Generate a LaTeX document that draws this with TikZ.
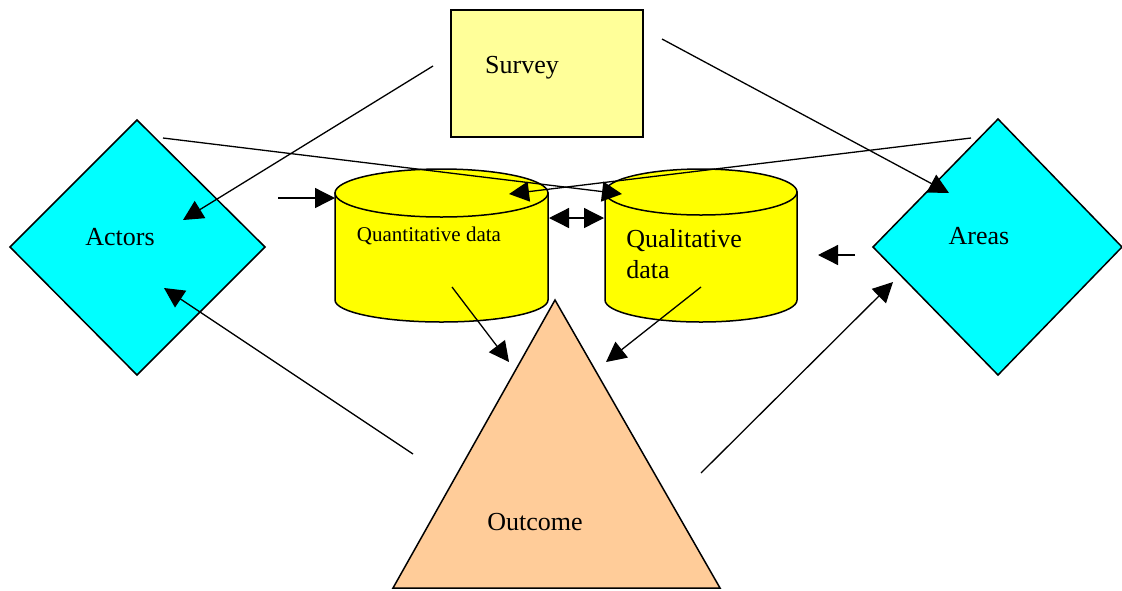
\documentclass[tikz,border=0pt]{standalone}
\usepackage{fontspec}
\setmainfont{Liberation Serif}
\usetikzlibrary{arrows.meta}
\definecolor{surveyfill}{HTML}{FFFF99}
\definecolor{diamfill}{HTML}{00FFFF}
\definecolor{cylfill}{HTML}{FFFF00}
\definecolor{outfill}{HTML}{FFCC99}
\tikzset{
  shapeline/.style={draw=black, line width=0.75pt, line join=miter},
  conn/.style={draw=black, line width=0.65pt, -{Triangle[length=10pt,width=10pt]}},
  dconn/.style={draw=black, line width=0.65pt, {Triangle[length=10pt,width=10pt]}-{Triangle[length=10pt,width=10pt]}},
  lbl/.style={font=\fontsize{13}{15.5}\selectfont, inner sep=0pt},
  smalllbl/.style={font=\fontsize{10.5}{12.5}\selectfont, inner sep=0pt}
}
\begin{document}
\begin{tikzpicture}[x=0.5pt,y=-0.5pt]
\useasboundingbox (0,0) rectangle (1122,590);
% Survey
\path[shapeline, fill=surveyfill] (451,10) rectangle (643,137);
\node[lbl] (survey) at (522,68) {Survey};
% Actors diamond
\path[shapeline, fill=diamfill] (137,120) -- (265,247) -- (137,375) -- (10,247) -- cycle;
\node[lbl] (actors) at (120,237) {Actors};
% Areas diamond
\path[shapeline, fill=diamfill] (998,119) -- (1122,247) -- (998,375) -- (873,247) -- cycle;
\node[lbl] (areas) at (979,236) {Areas};
% Quantitative cylinder
\path[shapeline, fill=cylfill] (335,193) -- (335,300) arc[start angle=180,end angle=0,x radius=106.5,y radius=22] -- (548,193) -- cycle;
\path[shapeline, fill=cylfill] (441.5,193) ellipse[x radius=106.5,y radius=24];
\node[smalllbl] (quant) at (429,236) {Quantitative data};
% Qualitative cylinder
\path[shapeline, fill=cylfill] (605,192) -- (605,300) arc[start angle=180,end angle=0,x radius=96,y radius=22] -- (797,192) -- cycle;
\path[shapeline, fill=cylfill] (701,192) ellipse[x radius=96,y radius=23];
\node[lbl, align=left, anchor=west] (qual) at (626,254) {Qualitative\\data};
% Outcome triangle
\path[shapeline, fill=outfill] (555,300) -- (720,588) -- (393,588) -- cycle;
\node[lbl] (outcome) at (535,522) {Outcome};
% connector coordinates
\coordinate (s1) at (433,66);
\coordinate (t1) at (183,220);
\coordinate (s2) at (662,39);
\coordinate (t2) at (949,193);
\coordinate (s3) at (163,138);
\coordinate (t3) at (622,194);
\coordinate (s4) at (971,138);
\coordinate (t4) at (509,194);
\coordinate (s5) at (278,198);
\coordinate (t5) at (335,198);
\coordinate (s6) at (549,218);
\coordinate (t6) at (604,218);
\coordinate (s7) at (855,255);
\coordinate (t7) at (818,255);
\coordinate (s8) at (452,287);
\coordinate (t8) at (509,362);
\coordinate (s9) at (701,287);
\coordinate (t9) at (606,362);
\coordinate (s10) at (413,454);
\coordinate (t10) at (164,288);
\coordinate (s11) at (701,473);
\coordinate (t11) at (893,282);
\draw[conn] (s1) -- (t1);
\draw[conn] (s2) -- (t2);
\draw[conn] (s3) -- (t3);
\draw[conn] (s4) -- (t4);
\draw[conn] (s5) -- (t5);
\draw[dconn] (s6) -- (t6);
\draw[conn] (s7) -- (t7);
\draw[conn] (s8) -- (t8);
\draw[conn] (s9) -- (t9);
\draw[conn] (s10) -- (t10);
\draw[conn] (s11) -- (t11);
\end{tikzpicture}
\end{document}
